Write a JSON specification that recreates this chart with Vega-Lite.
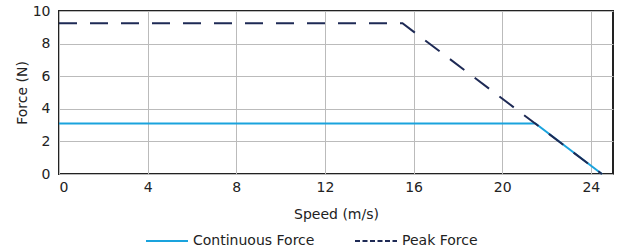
{
  "$schema": "https://vega.github.io/schema/vega-lite/v6.json",
  "width": 554,
  "height": 163,
  "autosize": "none",
  "padding": {"left": 59, "top": 11, "right": 11, "bottom": 78},
  "background": "white",
  "data": {"values": [
    {"speed": 0, "force": 3.1, "series": "Continuous Force"},
    {"speed": 21.5, "force": 3.1, "series": "Continuous Force"},
    {"speed": 24.5, "force": 0, "series": "Continuous Force"},
    {"speed": 0, "force": 9.25, "series": "Peak Force"},
    {"speed": 15.5, "force": 9.25, "series": "Peak Force"},
    {"speed": 24.5, "force": 0, "series": "Peak Force"}
  ]},
  "config": {
    "font": "DejaVu Sans",
    "view": {"stroke": "#222222", "strokeWidth": 2},
    "axis": {
      "labelFont": "DejaVu Sans",
      "titleFont": "DejaVu Sans",
      "labelFontSize": 14,
      "titleFontSize": 14,
      "titleFontWeight": "normal",
      "labelColor": "#222222",
      "titleColor": "#222222",
      "gridColor": "#bbbbbb",
      "gridWidth": 1,
      "domain": false,
      "ticks": false
    },
    "legend": {"labelFont": "DejaVu Sans", "labelFontSize": 14, "labelColor": "#222222"}
  },
  "encoding": {
    "x": {
      "field": "speed", "type": "quantitative",
      "scale": {"domain": [0, 25], "nice": false},
      "axis": {"values": [0, 4, 8, 12, 16, 20, 24], "title": "Speed (m/s)", "labelPadding": 6, "titlePadding": 13}
    },
    "y": {
      "field": "force", "type": "quantitative",
      "scale": {"domain": [0, 10], "nice": false},
      "axis": {"values": [0, 2, 4, 6, 8, 10], "title": "Force (N)", "labelPadding": 9, "titlePadding": 3}
    },
    "color": {
      "field": "series", "type": "nominal",
      "scale": {"domain": ["Continuous Force", "Peak Force"], "range": ["#1aa3dd", "#1e2a55"]},
      "legend": {
        "title": null, "orient": "none", "direction": "horizontal",
        "legendX": 86, "legendY": 208,
        "symbolType": "stroke", "symbolSize": 1764, "symbolStrokeWidth": 2,
        "columnPadding": 36, "labelOffset": 4,
        "encode": {"symbols": {"update": {"strokeDash": {"signal": "datum.value === 'Peak Force' ? [5, 2.5] : [1, 0]"}}}}
      }
    }
  },
  "layer": [
    {
      "transform": [{"filter": "datum.series === 'Continuous Force'"}],
      "mark": {"type": "line", "strokeWidth": 2}
    },
    {
      "transform": [{"filter": "datum.series === 'Peak Force'"}],
      "mark": {"type": "line", "strokeWidth": 2, "strokeDash": [18, 13]}
    }
  ]
}
